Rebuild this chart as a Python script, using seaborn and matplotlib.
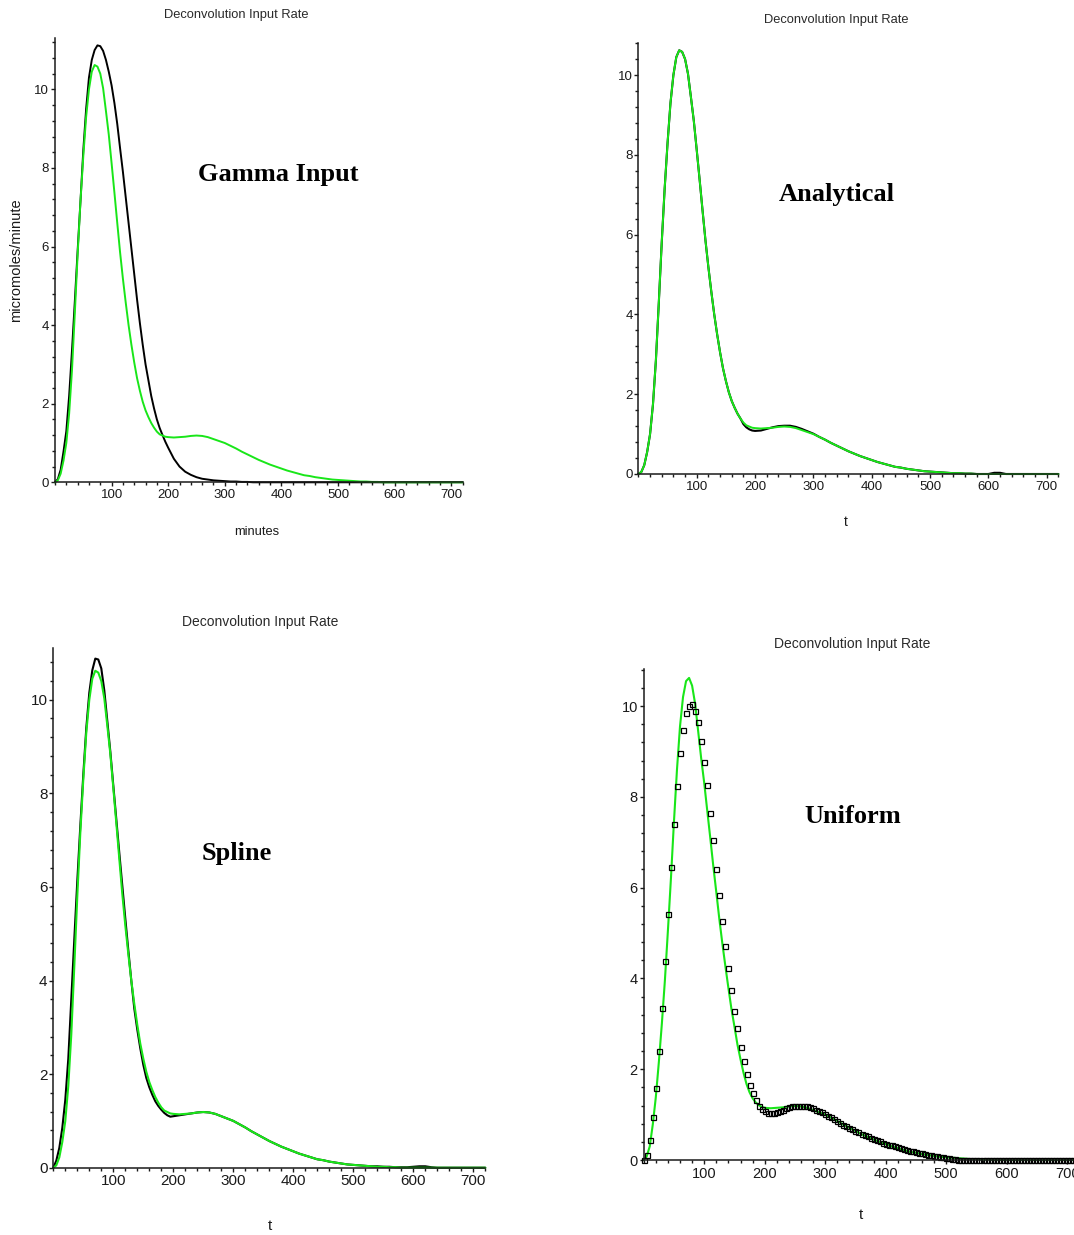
import matplotlib
matplotlib.use("Agg")
import matplotlib.pyplot as plt
from matplotlib import font_manager
from matplotlib.ticker import MultipleLocator, FixedLocator
import seaborn as sns

# ---------------------------------------------------------------- data
# time grids (minutes)
grid_t = list(range(0, 200, 5)) + list(range(200, 730, 10))
uniform_t = list(range(0, 725, 5))

# reference input rate (green)
green_v = [
    0.00, 0.05, 0.22, 0.55, 1.00, 1.75, 2.85, 4.30, 5.80, 7.15,
    8.30, 9.30, 10.00, 10.45, 10.62, 10.58, 10.40, 10.03, 9.45, 8.85,
    8.12, 7.37, 6.60, 5.85, 5.18, 4.57, 4.00, 3.50, 3.05, 2.65,
    2.33, 2.05, 1.83, 1.66, 1.51, 1.39, 1.29, 1.22, 1.19, 1.16,
    1.15, 1.14, 1.15, 1.16, 1.18, 1.19, 1.18, 1.15, 1.10, 1.05,
    1.00, 0.93, 0.86, 0.78, 0.71, 0.64, 0.57, 0.51, 0.45, 0.40,
    0.35, 0.30, 0.26, 0.22, 0.18, 0.16, 0.13, 0.11, 0.09, 0.07,
    0.06, 0.05, 0.04, 0.03, 0.02, 0.02, 0.01, 0.01,
    0.0, 0.0, 0.0, 0.0, 0.0, 0.0, 0.0, 0.0, 0.0, 0.0, 0.0, 0.0, 0.0, 0.0, 0.0,
]

# reference input rate as plotted with the uniform estimate
green_uniform_v = [
    0.00, 0.08, 0.30, 0.78, 1.38, 2.15, 3.00, 3.95, 5.05, 6.20,
    7.45, 8.60, 9.55, 10.20, 10.55, 10.62, 10.45, 10.05, 9.45, 8.85,
    8.31, 7.70, 7.10, 6.48, 5.90, 5.31, 4.77, 4.27, 3.79, 3.33,
    2.94, 2.54, 2.22, 1.92, 1.67, 1.49, 1.36, 1.27, 1.21, 1.17,
    1.15, 1.14, 1.15, 1.16, 1.18, 1.19, 1.18, 1.15, 1.10, 1.05,
    1.00, 0.93, 0.86, 0.78, 0.71, 0.64, 0.57, 0.51, 0.45, 0.40,
    0.35, 0.30, 0.26, 0.22, 0.18, 0.16, 0.13, 0.11, 0.09, 0.07,
    0.06, 0.05, 0.04, 0.03, 0.02, 0.02, 0.01, 0.01,
    0.0, 0.0, 0.0, 0.0, 0.0, 0.0, 0.0, 0.0, 0.0, 0.0, 0.0, 0.0, 0.0, 0.0, 0.0,
]

# gamma input estimate
gamma_v = [
    0.00, 0.08, 0.32, 0.78, 1.30, 2.20, 3.35, 4.60, 5.90, 7.15,
    8.45, 9.50, 10.30, 10.75, 11.00, 11.12, 11.10, 10.98, 10.75, 10.45,
    10.10, 9.65, 9.12, 8.50, 7.90, 7.25, 6.60, 5.95, 5.30, 4.65,
    4.05, 3.50, 3.00, 2.60, 2.20, 1.88, 1.60, 1.38, 1.20, 1.03,
    0.88, 0.60, 0.40, 0.27, 0.19, 0.13, 0.09, 0.07, 0.05, 0.04,
    0.03, 0.02, 0.02, 0.01, 0.01,
    0.0, 0.0, 0.0, 0.0, 0.0, 0.0, 0.0, 0.0, 0.0, 0.0, 0.0, 0.0, 0.0, 0.0,
    0.0, 0.0, 0.0, 0.0, 0.0, 0.0, 0.0, 0.0, 0.0, 0.0, 0.0, 0.0, 0.0, 0.0,
    0.0, 0.0, 0.0, 0.0, 0.0, 0.0, 0.0, 0.0, 0.0, 0.0,
]

# analytical deconvolution
analytical_v = [
    0.00, 0.05, 0.22, 0.55, 1.00, 1.75, 2.85, 4.30, 5.80, 7.15,
    8.30, 9.30, 10.00, 10.45, 10.62, 10.58, 10.40, 10.03, 9.45, 8.85,
    8.12, 7.37, 6.60, 5.85, 5.18, 4.57, 4.00, 3.50, 3.05, 2.65,
    2.33, 2.05, 1.83, 1.66, 1.51, 1.39, 1.25, 1.17, 1.12, 1.09,
    1.08, 1.09, 1.13, 1.17, 1.20, 1.21, 1.21, 1.18, 1.13, 1.07,
    1.01, 0.93, 0.86, 0.78, 0.71, 0.64, 0.57, 0.51, 0.45, 0.40,
    0.35, 0.30, 0.26, 0.22, 0.18, 0.16, 0.13, 0.11, 0.09, 0.07,
    0.06, 0.05, 0.04, 0.03, 0.02, 0.02, 0.01, 0.01,
    0.0, 0.0, 0.0, 0.03, 0.03, 0.0, 0.0, 0.0, 0.0, 0.0, 0.0, 0.0, 0.0, 0.0, 0.0,
]

# spline deconvolution
spline_v = [
    0.00, 0.15, 0.42, 0.85, 1.45, 2.33, 3.60, 4.88, 6.13, 7.30,
    8.40, 9.40, 10.15, 10.63, 10.88, 10.86, 10.67, 10.20, 9.55, 8.90,
    8.17, 7.45, 6.73, 6.03, 5.33, 4.65, 4.00, 3.40, 2.95, 2.55,
    2.20, 1.92, 1.72, 1.56, 1.42, 1.32, 1.24, 1.17, 1.12, 1.09,
    1.10, 1.12, 1.14, 1.16, 1.18, 1.19, 1.18, 1.15, 1.10, 1.05,
    1.00, 0.93, 0.86, 0.78, 0.71, 0.64, 0.57, 0.51, 0.45, 0.40,
    0.35, 0.30, 0.26, 0.22, 0.18, 0.16, 0.13, 0.11, 0.09, 0.07,
    0.06, 0.05, 0.04, 0.03, 0.03, 0.02, 0.02, 0.01,
    0.01, 0.01, 0.02, 0.03, 0.03, 0.01, 0.0, 0.0, 0.0, 0.0, 0.0, 0.0, 0.0, 0.0, 0.0,
]

# uniform deconvolution, one value every 5 minutes
uniform_v = [
    0.00, 0.11, 0.44, 0.95, 1.59, 2.41, 3.34, 4.38, 5.43, 6.45,
    7.40, 8.25, 8.96, 9.47, 9.84, 10.01, 10.04, 9.89, 9.64, 9.23,
    8.77, 8.26, 7.64, 7.04, 6.42, 5.84, 5.26, 4.72, 4.22, 3.74,
    3.29, 2.90, 2.50, 2.19, 1.89, 1.65, 1.47, 1.32, 1.20, 1.12,
    1.07, 1.04, 1.03, 1.03, 1.05, 1.08, 1.11, 1.14, 1.16, 1.18,
    1.19, 1.19, 1.19, 1.19, 1.18, 1.16, 1.14, 1.11, 1.08, 1.05,
    1.01, 0.97, 0.94, 0.90, 0.86, 0.82, 0.78, 0.75, 0.71, 0.68,
    0.64, 0.61, 0.58, 0.55, 0.52, 0.49, 0.46, 0.43, 0.41, 0.38,
    0.36, 0.34, 0.32, 0.30, 0.28, 0.26, 0.24, 0.22, 0.20, 0.19,
    0.17, 0.16, 0.15, 0.13, 0.12, 0.10, 0.09, 0.08, 0.07, 0.06,
    0.05, 0.04, 0.03, 0.02, 0.01, 0.01,
    0.0, 0.0, 0.0, 0.0, 0.0, 0.0, 0.0, 0.0, 0.0, 0.0, 0.0, 0.0, 0.0,
    0.0, 0.0, 0.0, 0.0, 0.0, 0.0, 0.0, 0.0, 0.0, 0.0, 0.0, 0.0, 0.0,
    0.0, 0.0, 0.0, 0.0, 0.0, 0.0, 0.0, 0.0, 0.0, 0.0, 0.0, 0.0, 0.0,
]

x_tick_values = [100, 200, 300, 400, 500, 600, 700]
y_tick_values = [0, 2, 4, 6, 8, 10]
title_text = "Deconvolution Input Rate"
method_names = ["Gamma Input", "Analytical", "Spline", "Uniform"]

# ---------------------------------------------------------------- style
sns.set_theme(style="white")
available = {f.name for f in font_manager.fontManager.ttflist}
if "Liberation Sans Narrow" in available:
    SANS = ["Liberation Sans Narrow", "DejaVu Sans"]
    k = 1.15
else:
    SANS = ["Liberation Sans", "DejaVu Sans"]
    k = 1.0
plt.rcParams["font.family"] = SANS
SERIF = ["Liberation Serif", "DejaVu Serif"]

GREEN = "#19e619"
INK = "#1a1a1a"
W, H = 1074, 1235

fig = plt.figure(figsize=(W / 100, H / 100), dpi=100)
fig.patch.set_facecolor("white")


def make_axes(left, right, y0, top, ymax, tick_fs):
    ax = fig.add_axes([left / W, 1 - y0 / H, (right - left) / W, (y0 - top) / H])
    ax.set_facecolor("white")
    ax.set_xlim(0, 720)
    ax.set_ylim(0, ymax)
    sns.despine(ax=ax)
    for side in ("left", "bottom"):
        ax.spines[side].set_color(INK)
        ax.spines[side].set_linewidth(1.1)
    ax.xaxis.set_major_locator(FixedLocator(x_tick_values))
    ax.xaxis.set_minor_locator(MultipleLocator(20))
    ax.yaxis.set_major_locator(FixedLocator(y_tick_values))
    ax.yaxis.set_minor_locator(MultipleLocator(0.4))
    ax.tick_params(which="both", direction="out", color=INK, width=1.0,
                   bottom=True, left=True, top=False, right=False,
                   labelcolor=INK, labelsize=tick_fs * k)
    ax.tick_params(axis="x", which="major", length=3.2, pad=1.5)
    ax.tick_params(axis="x", which="minor", length=2.4)
    ax.tick_params(axis="y", which="major", length=3.2, pad=1)
    ax.tick_params(axis="y", which="minor", length=2.0)
    ax.set_xlabel("")
    ax.set_ylabel("")
    ax.grid(False)
    return ax


def ftext(x, y, s, **kw):
    fig.text(x / W, 1 - y / H, s, **kw)


line_kw = dict(clip_on=False, legend=False)

# panel 1: gamma input
ax1 = make_axes(55, 462.5, 482.3, 38.3, 11.3, 9.5)
sns.lineplot(x=grid_t, y=gamma_v, ax=ax1, color="black", lw=1.4, **line_kw)
sns.lineplot(x=grid_t, y=green_v, ax=ax1, color=GREEN, lw=1.4, **line_kw)

# panel 2: analytical
ax2 = make_axes(638.4, 1058.4, 474, 42.7, 10.81, 9.5)
sns.lineplot(x=grid_t, y=analytical_v, ax=ax2, color="black", lw=1.5, **line_kw)
sns.lineplot(x=grid_t, y=green_v, ax=ax2, color=GREEN, lw=1.4, **line_kw)

# panel 3: spline
ax3 = make_axes(53.3, 485.3, 1167.7, 648.3, 11.1, 11)
sns.lineplot(x=grid_t, y=spline_v, ax=ax3, color="black", lw=1.5, **line_kw)
sns.lineplot(x=grid_t, y=green_v, ax=ax3, color=GREEN, lw=1.5, **line_kw)

# panel 4: uniform (squares)
ax4 = make_axes(643.7, 1079.3, 1160, 669.3, 10.81, 10.5)
sns.lineplot(x=grid_t, y=green_uniform_v, ax=ax4, color=GREEN, lw=1.5, **line_kw)
sns.lineplot(x=uniform_t, y=uniform_v, ax=ax4, color="black", ls="",
             marker="s", ms=3.6, mfc="none", mec="black", mew=0.9, **line_kw)

for ax in (ax1, ax2, ax3, ax4):
    for lab in ax.get_xticklabels() + ax.get_yticklabels():
        lab.set_family(SANS)

# titles
for (cx, cy, fs) in [(236, 15, 9.3), (836, 19.5, 9.3), (260, 622, 10), (852, 644, 10)]:
    ftext(cx, cy, title_text, ha="center", va="center", fontsize=fs * k,
          color="#2a2a2a", family=SANS)

# axis labels
ftext(257, 532, "minutes", ha="center", va="center", fontsize=9.3 * k, color=INK, family=SANS)
ftext(16, 260, "micromoles/minute", ha="center", va="center", rotation=90,
      fontsize=10.5 * k, color=INK, family=SANS)
for (cx, cy, fs) in [(846, 522, 10), (270, 1226, 11), (861, 1215, 11)]:
    ftext(cx, cy, "t", ha="center", va="center", fontsize=fs * k, color=INK, family=SANS)

# method annotations
for (cx, by), name in zip([(278, 181.5), (837, 201.5), (237, 860), (853, 823)], method_names):
    ftext(cx, by, name, ha="center", va="baseline", fontsize=19,
          fontweight="bold", color="black", family=SERIF)

fig.savefig("out.png", dpi=100, facecolor="white")
